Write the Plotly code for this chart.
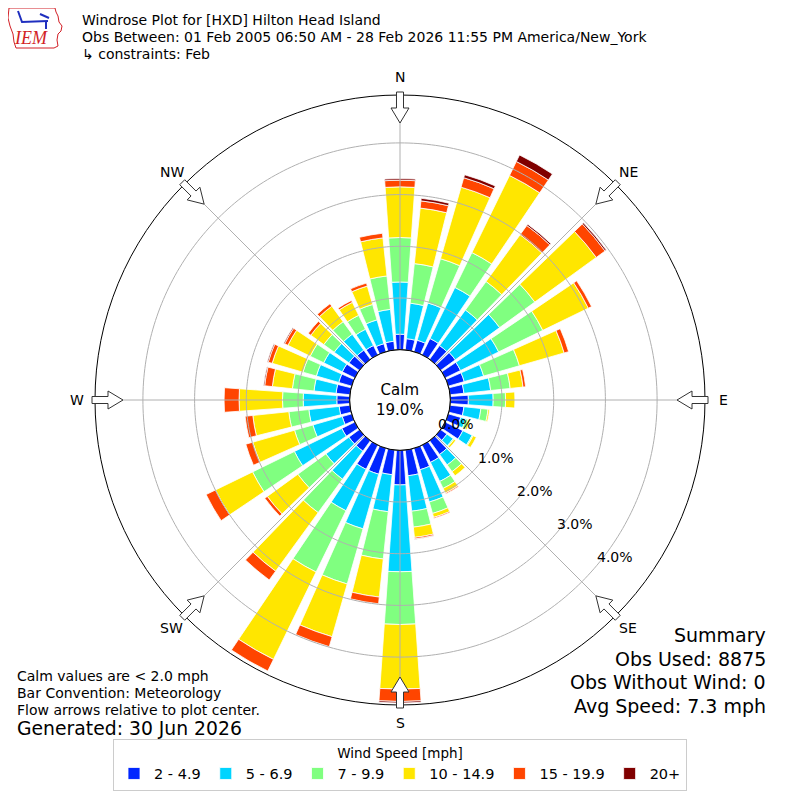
import numpy as np
import plotly.graph_objects as go

W, H = 800, 800
PAGE_PAD = 8  # default body margin of the html page

directions = list(range(0, 360, 10))
speed_bins = ['2 - 4.9', '5 - 6.9', '7 - 9.9', '10 - 14.9', '15 - 19.9', '20+']
bin_colors = ['#0026ff', '#00d4ff', '#80ff80', '#ffe600', '#ff4500', '#800000']

# percent of all obs, per direction (0, 10, ... 350 deg), one list per speed bin
pct_2_5 = [0.30, 0.22, 0.23, 0.35, 0.33, 0.35, 0.33, 0.32, 0.27, 0.35,
           0.27, 0.25, 0.38, 0.15, 0.33, 0.37, 0.43, 0.50,
           0.67, 0.48, 0.52, 0.52, 0.25, 0.25, 0.28, 0.19, 0.21,
           0.25, 0.27, 0.26, 0.27, 0.25, 0.22, 0.20, 0.16, 0.17]
pct_5_7 = [1.01, 0.69, 0.75, 1.10, 0.85, 1.06, 0.82, 0.39, 0.52, 0.48,
           0.33, 0.10, 0.20, 0.15, 0.25, 0.41, 0.65, 0.69,
           1.68, 0.72, 1.10, 0.89, 0.67, 0.55, 1.02, 0.59, 0.59,
           0.65, 0.43, 0.45, 0.40, 0.35, 0.38, 0.35, 0.48, 0.62]
pct_7_10 = [0.86, 0.77, 0.89, 0.75, 0.68, 0.84, 0.95, 0.72, 0.38, 0.24,
            0.14, 0.05, 0.02, 0.02, 0.16, 0.15, 0.23, 0.31,
            1.02, 0.92, 1.11, 1.32, 0.80, 0.67, 0.90, 0.37, 0.39,
            0.40, 0.42, 0.27, 0.29, 0.25, 0.30, 0.30, 0.31, 0.65]
pct_10_15 = [0.98, 1.08, 1.44, 1.66, 1.12, 1.47, 0.98, 0.90, 0.25, 0.18,
             0.03, 0.04, 0.07, 0.04, 0.10, 0.10, 0.08, 0.20,
             1.25, 0.74, 1.06, 1.88, 1.40, 0.73, 0.80, 0.84, 0.70,
             0.84, 0.39, 0.62, 0.48, 0.31, 0.37, 0.28, 0.37, 0.74]
pct_15_20 = [0.13, 0.14, 0.19, 0.30, 0.22, 0.21, 0.07, 0.09, 0.05, 0.00,
             0.00, 0.00, 0.00, 0.00, 0.00, 0.02, 0.02, 0.03,
             0.24, 0.13, 0.20, 0.25, 0.21, 0.06, 0.20, 0.14, 0.15,
             0.29, 0.15, 0.08, 0.07, 0.06, 0.06, 0.04, 0.06, 0.09]
pct_20_up = [0.03, 0.05, 0.06, 0.14, 0.03, 0.03, 0.00, 0.00, 0.00, 0.00,
             0.00, 0.00, 0.00, 0.00, 0.00, 0.00, 0.00, 0.01,
             0.03, 0.00, 0.00, 0.00, 0.00, 0.00, 0.00, 0.00, 0.00,
             0.00, 0.02, 0.02, 0.02, 0.00, 0.00, 0.00, 0.00, 0.00]
bin_values = [pct_2_5, pct_5_7, pct_7_10, pct_10_15, pct_15_20, pct_20_up]

radial_ticks = [0, 1, 2, 3, 4]
compass = ['N', 'NE', 'E', 'SE', 'S', 'SW', 'W', 'NW']
compass_deg = [0, 45, 90, 135, 180, 225, 270, 315]

calm_pct = 19.0
summary = ['Summary', 'Obs Used: 8875', 'Obs Without Wind: 0', 'Avg Speed: 7.3 mph']
notes = ['Calm values are < 2.0 mph', 'Bar Convention: Meteorology',
         'Flow arrows relative to plot center.']
titles = ['Windrose Plot for [HXD] Hilton Head Island',
          'Obs Between: 01 Feb 2005 06:50 AM - 28 Feb 2026 11:55 PM America/New_York',
          '\u21b3 constraints: Feb']

# plot geometry, in screen pixels
cx, cy = 400, 400
r_out = 305
r_hole = 50.3
px_per_pct = 51.7
r_max = (r_out - r_hole) / px_per_pct

FONT = 'DejaVu Sans'


def paper(px, py):
    # screen pixel -> paper fraction (figure sits PAGE_PAD px into the page)
    return (px - PAGE_PAD) / W, 1 - (py - PAGE_PAD) / H


def svg_path(pts, close=True):
    s = 'M ' + ' L '.join('%.5f,%.5f' % paper(*p) for p in pts)
    return s + (' Z' if close else '')


fig = go.Figure()
for name, vals, col in zip(speed_bins, bin_values, bin_colors):
    fig.add_trace(go.Barpolar(r=vals, theta=directions, name=name, width=8,
                              marker=dict(color=col, line=dict(color='white', width=0.8))))

# grid drawn over the bars
ring_theta = np.linspace(0, 360, 361)
for v in radial_ticks[1:]:
    fig.add_trace(go.Scatterpolar(r=[v] * len(ring_theta), theta=ring_theta, mode='lines',
                                  line=dict(color='#b0b0b0', width=1),
                                  showlegend=False, hoverinfo='skip'))
for a in compass_deg:
    fig.add_trace(go.Scatterpolar(r=[0, r_max], theta=[a, a], mode='lines',
                                  line=dict(color='#b0b0b0', width=1),
                                  showlegend=False, hoverinfo='skip'))
fig.add_trace(go.Scatterpolar(r=[0] * len(ring_theta), theta=ring_theta, mode='lines',
                              line=dict(color='black', width=1),
                              showlegend=False, hoverinfo='skip'))

x0, y1 = paper(cx - r_out, cy - r_out)
x1, y0 = paper(cx + r_out, cy + r_out)
leg_x, leg_y = paper(cx, 739)
fig.update_layout(
    width=W, height=H,
    margin=dict(l=0, r=0, t=0, b=0),
    paper_bgcolor='white',
    font=dict(family=FONT, color='black'),
    polar=dict(
        domain=dict(x=[x0, x1], y=[y0, y1]),
        hole=r_hole / r_out,
        bgcolor='white',
        barmode='stack',
        radialaxis=dict(range=[0, r_max], showgrid=False, showline=False,
                        showticklabels=False, ticks=''),
        angularaxis=dict(rotation=90, direction='clockwise', showgrid=False,
                         showticklabels=False, ticks='', showline=True,
                         linecolor='black', linewidth=1),
    ),
    legend=dict(orientation='h', x=leg_x, xanchor='center', y=leg_y, yanchor='top',
                bordercolor='#cccccc', borderwidth=1, bgcolor='white',
                font=dict(family=FONT, size=14.5), tracegroupgap=0,
                title=dict(text='Wind Speed [mph]', side='top center',
                           font=dict(family=FONT, size=13.5))),
)


def label(px, py, text, size, xanchor='center', yanchor='middle', **font):
    x, y = paper(px, py)
    return dict(x=x, y=y, text=text, showarrow=False, xanchor=xanchor, yanchor=yanchor,
                font=dict(size=size, **font))


annotations = []
for lab, a in zip(compass, compass_deg):
    t = np.radians(a)
    annotations.append(label(cx + 323 * np.sin(t), cy - 323 * np.cos(t), lab, 14))
ang = np.radians(40)
for v in radial_ticks:
    rr = r_hole + v * px_per_pct - 3
    annotations.append(label(cx + rr * np.cos(ang), cy + rr * np.sin(ang) + 4, '%.1f%%' % v, 14,
                             xanchor='left', yanchor='bottom'))
annotations.append(label(cx, cy, 'Calm<br>%.1f%%' % calm_pct, 15))
for i, t in enumerate(titles):
    annotations.append(label(80, 20 + 17 * i, t, 14, xanchor='left'))
annotations.append(label(31, 38, '<i>IEM</i>', 18, family='Liberation Serif', color='#d21f26'))
for i, t in enumerate(notes):
    annotations.append(label(15, 676 + 17 * i, t, 14, xanchor='left'))
annotations.append(label(15, 728, 'Generated: 30 Jun 2026', 18.8, xanchor='left'))
for i, t in enumerate(summary):
    annotations.append(label(768, 635 + 23.5 * i, t, 19, xanchor='right'))
fig.update_layout(annotations=annotations)

shapes = []
# IEM logo: state outline and the little blue wind sketch
iowa = [(9, 8), (55, 8), (56, 12), (58, 16), (59, 22), (62, 26), (61, 31), (58, 34),
        (57, 40), (58, 46), (54, 48), (16, 48), (14, 42), (13, 34), (10, 26), (8, 18)]
shapes.append(dict(type='path', path=svg_path(iowa), xref='paper', yref='paper',
                   line=dict(color='#d21f26', width=1)))
for seg in [[(18, 11), (22, 22), (48, 21)], [(40, 14), (49, 18)], [(46, 21), (46, 29)]]:
    shapes.append(dict(type='path', path=svg_path(seg, close=False), xref='paper',
                       yref='paper', line=dict(color='#1f2fbf', width=2)))

# hollow flow arrows on the rim, pointing to the center
for a in compass_deg:
    t = np.radians(a)
    ux, uy = np.sin(t), -np.cos(t)
    vx, vy = np.cos(t), np.sin(t)
    arrow = [(cx + rho * ux + off * vx, cy + rho * uy + off * vy)
             for rho, off in [(277, 0), (292, 9), (292, 3.5), (308, 3.5),
                              (308, -3.5), (292, -3.5), (292, -9)]]
    shapes.append(dict(type='path', path=svg_path(arrow), xref='paper', yref='paper',
                       fillcolor='white', line=dict(color='#333333', width=1)))
fig.update_layout(shapes=shapes)

fig.write_html('out.html')
